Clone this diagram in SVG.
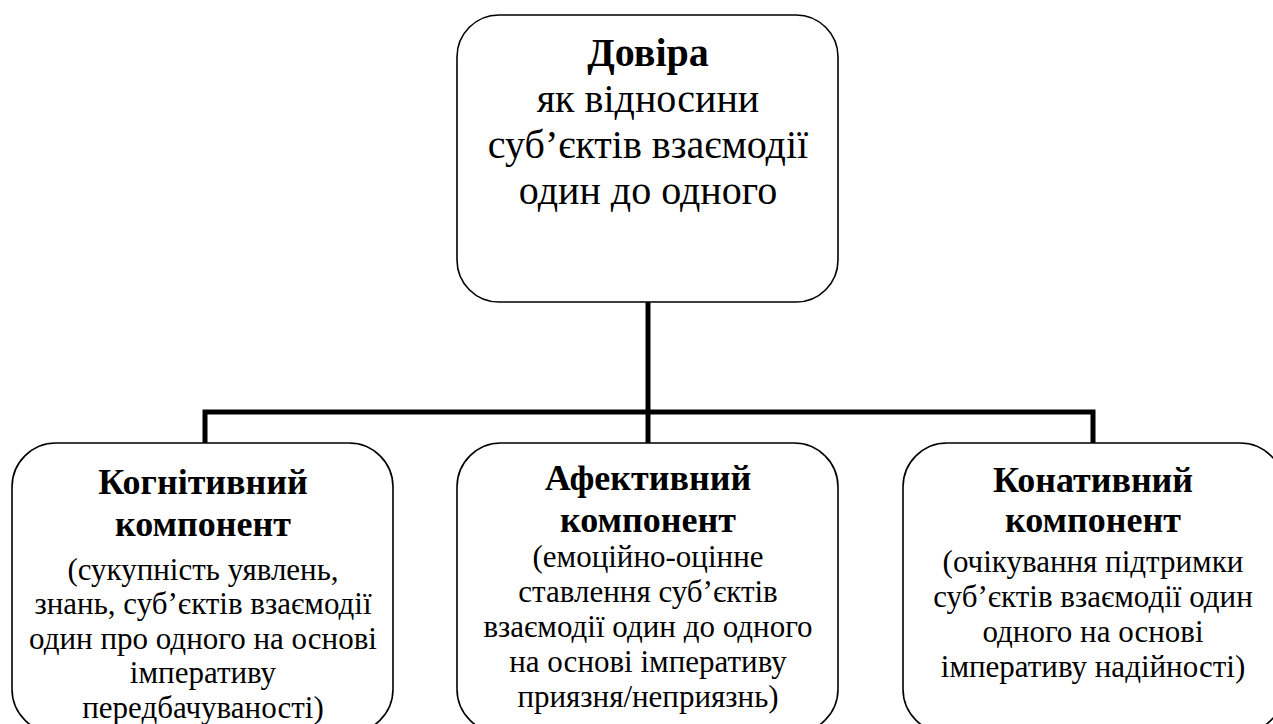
<svg xmlns="http://www.w3.org/2000/svg" width="1273" height="724" viewBox="0 0 1273 724">
<style>
.box{fill:#fff;stroke:#000;stroke-width:1.6}
.conn{fill:none;stroke:#000;stroke-width:5}
.s{text-anchor:middle;fill:#000}
.t{font-size:40px;font-weight:bold}
.tl{font-size:40px}
.h{font-size:36px;font-weight:bold}
.b{font-size:31px}
</style>
<rect width="1273" height="724" fill="#fff"/>
<g id="connectors">
<path class="conn" d="M648 302 V412"/>
<path class="conn" d="M205 443 V412 H1093 V443"/>
<path class="conn" d="M648 412 V443"/>
</g>
<g id="node-root">
<rect class="box" x="457" y="15" width="381" height="287" rx="42" ry="42"/>
<text class="s t" style="font-family:'Liberation Serif',serif" x="648" y="66">Довіра</text>
<text class="s tl" style="font-family:'Liberation Serif',serif" x="648" y="112">як відносини</text>
<text class="s tl" style="font-family:'Liberation Serif',serif" x="648" y="158">суб’єктів взаємодії</text>
<text class="s tl" style="font-family:'Liberation Serif',serif" x="648" y="204">один до одного</text>
</g>
<g id="node-cognitive">
<rect class="box" x="12" y="443" width="381" height="290" rx="44" ry="44"/>
<text class="s h" style="font-family:'Liberation Serif',serif" x="203" y="494">Когнітивний</text>
<text class="s h" style="font-family:'Liberation Serif',serif" x="203" y="536">компонент</text>
<text class="s b" style="font-family:'Liberation Serif',serif" x="203" y="580">(сукупність уявлень,</text>
<text class="s b" style="font-family:'Liberation Serif',serif" x="203" y="614">знань, суб’єктів взаємодії</text>
<text class="s b" style="font-family:'Liberation Serif',serif" x="203" y="649">один про одного на основі</text>
<text class="s b" style="font-family:'Liberation Serif',serif" x="203" y="683">імперативу</text>
<text class="s b" style="font-family:'Liberation Serif',serif" x="203" y="718">передбачуваності)</text>
</g>
<g id="node-affective">
<rect class="box" x="457" y="443" width="381" height="290" rx="44" ry="44"/>
<text class="s h" style="font-family:'Liberation Serif',serif" x="648" y="490">Афективний</text>
<text class="s h" style="font-family:'Liberation Serif',serif" x="648" y="532">компонент</text>
<text class="s b" style="font-family:'Liberation Serif',serif" x="648" y="567">(емоційно-оцінне</text>
<text class="s b" style="font-family:'Liberation Serif',serif" x="648" y="602">ставлення суб’єктів</text>
<text class="s b" style="font-family:'Liberation Serif',serif" x="648" y="637">взаємодії один до одного</text>
<text class="s b" style="font-family:'Liberation Serif',serif" x="648" y="672">на основі імперативу</text>
<text class="s b" style="font-family:'Liberation Serif',serif" x="648" y="707">приязня/неприязнь)</text>
</g>
<g id="node-conative">
<rect class="box" x="903" y="443" width="381" height="290" rx="44" ry="44"/>
<text class="s h" style="font-family:'Liberation Serif',serif" x="1093" y="492">Конативний</text>
<text class="s h" style="font-family:'Liberation Serif',serif" x="1093" y="532">компонент</text>
<text class="s b" style="font-family:'Liberation Serif',serif" x="1093" y="572">(очікування підтримки</text>
<text class="s b" style="font-family:'Liberation Serif',serif" x="1093" y="607">суб’єктів взаємодії один</text>
<text class="s b" style="font-family:'Liberation Serif',serif" x="1093" y="642">одного на основі</text>
<text class="s b" style="font-family:'Liberation Serif',serif" x="1093" y="677">імперативу надійності)</text>
</g>
</svg>
